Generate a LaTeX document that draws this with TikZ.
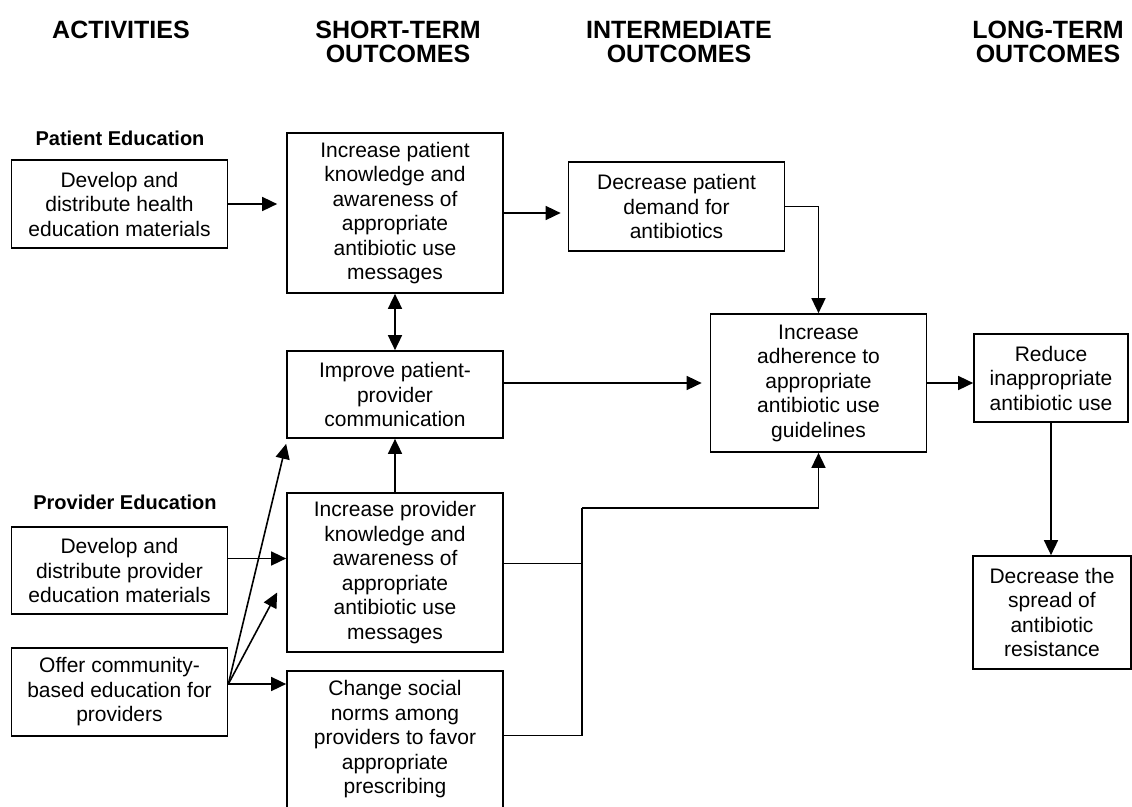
\documentclass[tikz,border=0pt]{standalone}
\usepackage{fontspec}
\setmainfont{Liberation Sans}
\usepackage{tikz}
\usetikzlibrary{arrows.meta,positioning,calc}

\begin{document}
\begin{tikzpicture}[x=1pt, y=-1pt,
    box/.style={draw, line width=1.7pt, align=center, inner sep=0pt,
        minimum width=216pt, font=\fontsize{21}{24.5}\selectfont},
    head/.style={align=center, anchor=north, font=\bfseries\fontsize{25}{24}\selectfont},
    group/.style={font=\bfseries\fontsize{20}{24}\selectfont},
    arr/.style={line width=1.6pt, -{Triangle[length=15pt,width=14pt]}},
    arrb/.style={line width=1.6pt, {Triangle[length=15pt,width=14pt]}-{Triangle[length=15pt,width=14pt]}},
    wire/.style={line width=1.6pt}]
    \useasboundingbox (0,0) rectangle (1132,806);
    \clip (0,0) rectangle (1132,806);

    % Column heads
    \node[head] (hAct) at (121,18) {ACTIVITIES};
    \node[head] (hShort) at (398,18) {SHORT-TERM\\OUTCOMES};
    \node[head] (hInter) at (679,18) {INTERMEDIATE\\OUTCOMES};
    \node[head] (hLong) at (1048,18) {LONG-TERM\\OUTCOMES};

    % Patient education
    \node[group] (pat) at (120,138) {Patient Education};
    \node[box, minimum height=88pt] (A1) at (119.5,204) {Develop and\\distribute health\\education materials};
    \node[box, minimum height=160pt] (S1) at (395,213) {Increase patient\\knowledge and\\awareness of\\appropriate\\antibiotic use\\messages};
    \node[box, minimum height=87pt] (S2) at (395,394.5) {Improve patient-\\provider\\communication};
    \node[box, minimum height=89pt] (I1) at (676.5,206.5) {Decrease patient\\demand for\\antibiotics};

    % Provider education
    \node[group] (prov) at (125,502) {Provider Education};
    \node[box, minimum height=87pt] (A2) at (119.5,570.5) {Develop and\\distribute provider\\education materials};
    \node[box, minimum height=88pt] (A3) at (119.5,692) {Offer community-\\based education for\\providers};
    \node[box, minimum height=159pt] (S3) at (395,572.5) {Increase provider\\knowledge and\\awareness of\\appropriate\\antibiotic use\\messages};
    \node[box, minimum height=137pt] (S4) at (395,739.5) {Change social\\norms among\\providers to favor\\appropriate\\prescribing};

    % Outcomes further on
    \node[box, minimum height=138pt] (I2) at (818.5,383) {Increase\\adherence to\\appropriate\\antibiotic use\\guidelines};
    \node[box, minimum width=154pt, minimum height=88pt] (L1) at (1051,378) {Reduce\\inappropriate\\antibiotic use};
    \node[box, minimum width=158pt, minimum height=113pt] (L2) at (1052,612.5) {Decrease the\\spread of\\antibiotic\\resistance};

    % Patient links
    \draw[arr, shorten >=9pt] (A1.east) -- (A1.east -| S1.west);
    \draw[arr, shorten >=7pt] (S1.east) -- (S1.east -| I1.west);
    \draw[arr] (I1.east) -| (I2.north);
    \draw[arrb] (S1) -- (S2);
    \draw[arr, shorten >=8pt] (S2.east |- I2.west) -- (I2.west);
    \draw[arr] (I2.east) -- (I2.east -| L1.west);
    \draw[arr] (L1.south) -- (L1.south |- L2.north);

    % Provider links
    \coordinate (fan) at ([yshift=8pt]A3.east);
    \coordinate (jn) at (582,508);
    \draw[arr] ([yshift=12pt]A2.east) -- ([yshift=12pt]A2.east -| S3.west);
    \draw[arr] (fan) -- (fan -| S4.west);
    \draw[arr] (fan) -- ([yshift=-5pt]S2.south west);
    \draw[arr] (fan) -- ([shift={(-9pt,-20pt)}]S3.west);
    \draw[arr] (S3) -- (S2);
    \draw[wire] ([yshift=9pt]S3.east) -| (jn);
    \draw[wire] ([yshift=4pt]S4.east) -| (jn);
    \draw[arr] (jn) -| (I2.south);
\end{tikzpicture}
\end{document}
